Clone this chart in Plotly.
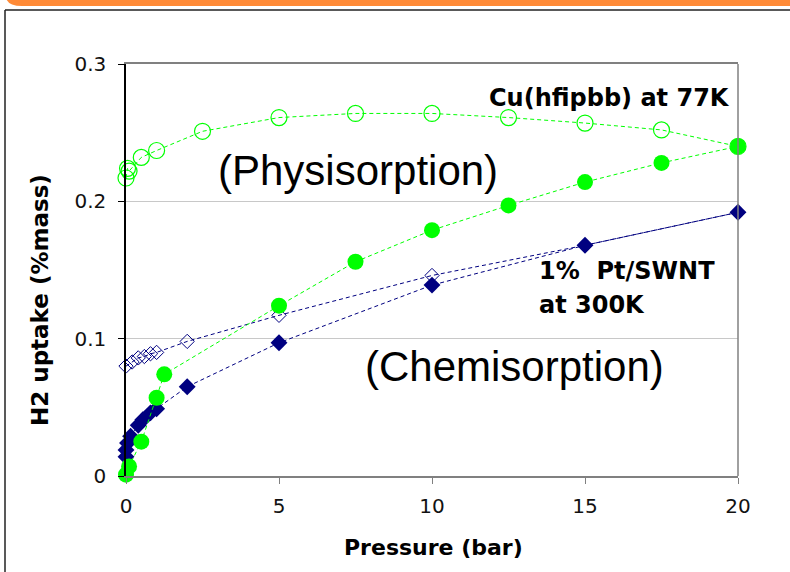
import plotly.graph_objects as go

# Hydrogen uptake isotherms
# Cu(hfipbb) at 77 K, physisorption (open circles)
cu_open_p = [0.0, 0.05, 0.1, 0.5, 1.0, 2.5, 5.0, 7.5, 10.0, 12.5, 15.0, 17.5, 20.0]
cu_open_h2 = [0.217, 0.224, 0.222, 0.232, 0.237, 0.251, 0.261, 0.264, 0.264, 0.261, 0.257, 0.252, 0.240]

# filled circles
cu_fill_p = [0.0, 0.1, 0.5, 1.0, 1.25, 5.0, 7.5, 10.0, 12.5, 15.0, 17.5, 20.0]
cu_fill_h2 = [0.001, 0.007, 0.025, 0.057, 0.074, 0.124, 0.156, 0.179, 0.197, 0.214, 0.228, 0.240]

# 1% Pt/SWNT at 300 K, chemisorption
pt_open_p = [0.0, 0.2, 0.4, 0.6, 0.8, 1.0, 2.0, 5.0, 10.0, 15.0, 20.0]
pt_open_h2 = [0.080, 0.083, 0.086, 0.087, 0.089, 0.090, 0.098, 0.117, 0.146, 0.168, 0.192]

pt_fill_p = [0.0, 0.0, 0.05, 0.15, 0.4, 0.55, 0.8, 1.0, 2.0, 5.0, 10.0, 15.0, 20.0]
pt_fill_h2 = [0.014, 0.019, 0.024, 0.029, 0.037, 0.041, 0.046, 0.049, 0.065, 0.097, 0.139, 0.168, 0.192]

x_ticks = [0, 5, 10, 15, 20]
y_ticks = [0, 0.1, 0.2, 0.3]
y_tick_text = ["0", "0.1", "0.2", "0.3"]

GREEN = "#00FF00"
NAVY = "#000080"
W, H = 790, 572
L, R, T, B = 126, 52, 64, 96
PW, PH = W - L - R, H - T - B


def px(x, y):
    """Pixel position on the page -> paper coordinates."""
    return (x - L) / PW, (H - B - y) / PH


fig = go.Figure()

fig.add_trace(go.Scatter(
    x=pt_open_p, y=pt_open_h2, mode="lines+markers", cliponaxis=False,
    line=dict(color=NAVY, width=1, dash="4px,3px"),
    marker=dict(symbol="diamond-open", size=11, color=NAVY, line=dict(width=1, color=NAVY)),
))
fig.add_trace(go.Scatter(
    x=pt_fill_p, y=pt_fill_h2, mode="lines+markers", cliponaxis=False,
    line=dict(color=NAVY, width=1, dash="4px,3px"),
    marker=dict(symbol="diamond", size=13, color=NAVY),
))
fig.add_trace(go.Scatter(
    x=cu_open_p, y=cu_open_h2, mode="lines+markers", cliponaxis=False,
    line=dict(color=GREEN, width=1, dash="4px,3px"),
    marker=dict(symbol="circle-open", size=16, color=GREEN, line=dict(width=1.2, color=GREEN)),
))
fig.add_trace(go.Scatter(
    x=cu_fill_p, y=cu_fill_h2, mode="lines+markers", cliponaxis=False,
    line=dict(color=GREEN, width=1, dash="4px,3px"),
    marker=dict(symbol="circle", size=16, color=GREEN),
))

TXT = "Liberation Sans, Arial, sans-serif"
WIDE = "DejaVu Sans, Verdana, sans-serif"

annotations = []


def note(text, x, y, size, family, bold=False, xanchor="center", angle=0):
    ax, ay = px(x, y)
    annotations.append(dict(
        text=f"<b>{text}</b>" if bold else text, x=ax, y=ay, xref="paper", yref="paper",
        showarrow=False, xanchor=xanchor, yanchor="middle", textangle=angle,
        font=dict(family=family, size=size, color="black"),
    ))


note("(Physisorption)", 358, 170, 42, TXT)
note("(Chemisorption)", 514, 366, 42, TXT)
note("Cu(hfipbb) at 77K", 487, 98, 24, WIDE, bold=True, xanchor="left")
note("1%  Pt/SWNT", 537, 271, 24, WIDE, bold=True, xanchor="left")
note("at 300K", 537, 305, 24, WIDE, bold=True, xanchor="left")
note("Pressure (bar)", 433, 547, 22, WIDE, bold=True)
note("H2 uptake (%mass)", 40, 300, 23, WIDE, bold=True, angle=-90)

shapes = []
# right border of the plotting area
shapes.append(dict(type="line", xref="paper", yref="paper", x0=1, x1=1, y0=0, y1=1,
                   line=dict(color="#808080", width=1.5)))
# slide frame
fx0, fy0 = px(5, 10)
fx1, fy1 = px(W + 5, H + 5)
shapes.append(dict(type="line", xref="paper", yref="paper", x0=fx0, x1=fx0, y0=fy0, y1=fy1,
                   line=dict(color="#222222", width=1.5)))
shapes.append(dict(type="line", xref="paper", yref="paper", x0=fx0, x1=fx1, y0=fy0, y1=fy0,
                   line=dict(color="#222222", width=1.5)))
# orange header band with rounded lower-left corner
a = px(6, -2); b = px(W + 5, -2); c = px(W + 5, 6); d = px(22, 6); e = px(8, 6)
shapes.append(dict(type="path", xref="paper", yref="paper",
                   path=f"M {a[0]},{a[1]} L {b[0]},{b[1]} L {c[0]},{c[1]} L {d[0]},{d[1]} "
                        f"Q {e[0]},{e[1]} {a[0]},{a[1]} Z",
                   fillcolor="#FF8A36", line=dict(width=0)))

fig.update_layout(
    width=W, height=H, margin=dict(l=L, r=R, t=T, b=B),
    paper_bgcolor="white", plot_bgcolor="white", showlegend=False,
    annotations=annotations, shapes=shapes,
    xaxis=dict(range=[0, 20], tickvals=x_ticks, ticks="outside", ticklen=6, tickcolor="#808080",
               showline=True, linecolor="#808080", linewidth=1.5, mirror=True, showgrid=False,
               zeroline=False, ticklabelstandoff=5,
               tickfont=dict(family=WIDE, size=20, color="#111111")),
    yaxis=dict(range=[0, 0.3], tickvals=y_ticks, ticktext=y_tick_text, ticks="outside", ticklen=6,
               tickcolor="black", showline=True, linecolor="black", linewidth=1.5, showgrid=True,
               gridcolor="#C8C8C8", gridwidth=1, zeroline=False, ticklabelstandoff=8,
               tickfont=dict(family=WIDE, size=20, color="#111111")),
)

fig.write_html("out.html")
